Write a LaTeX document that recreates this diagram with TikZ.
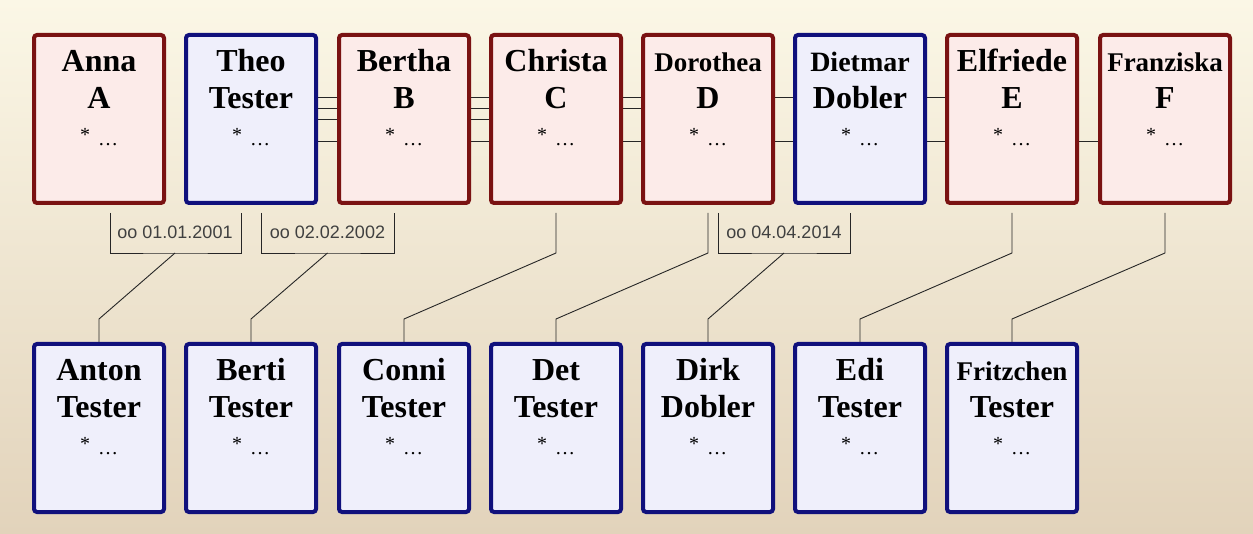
\documentclass[tikz,border=0pt]{standalone}
\usepackage{fontspec}
\setmainfont{Liberation Serif}
\setsansfont{Liberation Sans}
\usetikzlibrary{calc}
\pgfdeclarelayer{background}
\pgfdeclarelayer{links}
\pgfsetlayers{background,links,main}
\definecolor{womanline}{HTML}{7A1212}
\definecolor{womanfill}{HTML}{FCEBE9}
\definecolor{manline}{HTML}{10107C}
\definecolor{manfill}{HTML}{EFEFFB}
\definecolor{paperlight}{HTML}{FBF7E6}
\definecolor{paperdark}{HTML}{E2D3BB}
\newcommand{\persontext}[3][32]{\parbox[c][168pt][t]{128pt}{\centering\fontsize{32}{37}\selectfont\bfseries
	\vspace*{11pt}{\fontsize{#1}{37}\selectfont\strut #2}\\
	#3\\
	{\mdseries\fontsize{20}{37}\selectfont\raisebox{4pt}{*}\hspace{8pt}\ldots}}}
\tikzset{
	personbox/.style={rectangle, rounded corners=3pt, line width=4pt, inner sep=0pt, minimum width=130pt, minimum height=168pt},
	womanbox/.style={personbox, draw=womanline, fill=womanfill},
	manbox/.style={personbox, draw=manline, fill=manfill},
	datelabel/.style={font=\sffamily\fontsize{18}{20}\selectfont, text=black!75, inner sep=0pt},
	link/.style={draw=black!85, line width=0.9pt}
}
\begin{document}
\begin{tikzpicture}[x=1pt,y=-1pt]
		\begin{pgfonlayer}{background}
			\shade[top color=paperlight, bottom color=paperdark] (0,0) rectangle (1253,534);
		\end{pgfonlayer}
		\node[womanbox] (anna) at (99,119) {\persontext{Anna}{A}};
		\node[manbox] (theo) at (251,119) {\persontext{Theo}{Tester}};
		\node[womanbox] (bertha) at (404,119) {\persontext{Bertha}{B}};
		\node[womanbox] (christa) at (556,119) {\persontext{Christa}{C}};
		\node[womanbox] (dorothea) at (708,119) {\persontext[27]{Dorothea}{D}};
		\node[manbox] (dietmar) at (860,119) {\persontext[28]{Dietmar}{Dobler}};
		\node[womanbox] (elfriede) at (1012,119) {\persontext{Elfriede}{E}};
		\node[womanbox] (franziska) at (1165,119) {\persontext[27]{Franziska}{F}};
		\node[manbox] (anton) at (99,428) {\persontext{Anton}{Tester}};
		\node[manbox] (berti) at (251,428) {\persontext{Berti}{Tester}};
		\node[manbox] (conni) at (404,428) {\persontext{Conni}{Tester}};
		\node[manbox] (det) at (556,428) {\persontext{Det}{Tester}};
		\node[manbox] (dirk) at (708,428) {\persontext{Dirk}{Dobler}};
		\node[manbox] (edi) at (860,428) {\persontext{Edi}{Tester}};
		\node[manbox] (fritzchen) at (1012,428) {\persontext[27]{Fritzchen}{Tester}};
		\begin{pgfonlayer}{links}
			\draw[link] (theo.east |- 0,97) -- (elfriede.west |- 0,97);
			\draw[link] (theo.east |- 0,108) -- (dorothea.west |- 0,108);
			\draw[link] (theo.east |- 0,119) -- (christa.west |- 0,119);
			\draw[link] (theo.east |- 0,141) -- (franziska.west |- 0,141);
		\end{pgfonlayer}
		\coordinate (wed1) at ($(anna.south)!0.5!(theo.south)+(0,48)$);
		\draw[link] ([shift={(11,8)}]anna.south) |- (wed1) -| ([shift={(-10,8)}]theo.south);
		\node[datelabel] (date1) at ($(wed1)+(0,-21)$) {oo 01.01.2001};
		\draw[link] (wed1) -- ([yshift=23pt]anton.north) -- (anton.north);
		\coordinate (wed2) at ($(theo.south)!0.5!(bertha.south)+(0,48)$);
		\draw[link] ([shift={(10,8)}]theo.south) |- (wed2) -| ([shift={(-10,8)}]bertha.south);
		\node[datelabel] (date2) at ($(wed2)+(0,-21)$) {oo 02.02.2002};
		\draw[link] (wed2) -- ([yshift=23pt]berti.north) -- (berti.north);
		\draw[link] ([yshift=-8pt]christa.south) -- ++(0,40) -- ([yshift=23pt]conni.north) -- (conni.north);
		\draw[link] ([yshift=-8pt]dorothea.south) -- ++(0,40) -- ([yshift=23pt]det.north) -- (det.north);
		\coordinate (wed3) at ($(dorothea.south)!0.5!(dietmar.south)+(0,48)$);
		\draw[link] ([shift={(10,8)}]dorothea.south) |- (wed3) -| ([shift={(-10,8)}]dietmar.south);
		\node[datelabel] (date3) at ($(wed3)+(0,-21)$) {oo 04.04.2014};
		\draw[link] (wed3) -- ([yshift=23pt]dirk.north) -- (dirk.north);
		\draw[link] ([yshift=-8pt]elfriede.south) -- ++(0,40) -- ([yshift=23pt]edi.north) -- (edi.north);
		\draw[link] ([yshift=-8pt]franziska.south) -- ++(0,40) -- ([yshift=23pt]fritzchen.north) -- (fritzchen.north);
\end{tikzpicture}
\end{document}
